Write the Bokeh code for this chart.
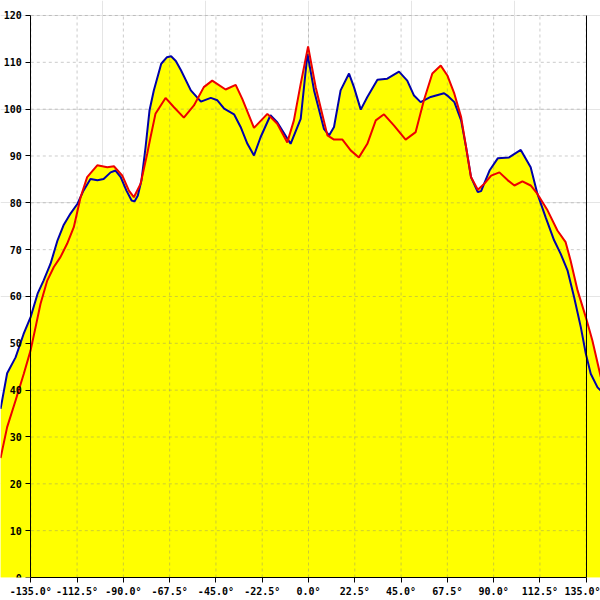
from bokeh.plotting import figure
from bokeh.models import LinearAxis, FixedTicker, Range1d
from bokeh.embed import file_html
from bokeh.resources import INLINE

# Blue series (angle in degrees, value)
angles_b = [-149.7, -146.5, -142.4, -138.5, -135.1, -131.7, -128.8, -125.4, -122.0, -119.1,
            -115.7, -112.3, -109.4, -106.0, -102.6, -99.6, -96.2, -93.8, -91.3, -88.5,
            -86.0, -84.6, -83.0, -81.2, -79.2, -77.3, -75.2, -71.6, -68.8, -66.8, -64.5, -62.0,
            -57.2, -52.3, -47.5, -44.3, -41.0, -36.2, -33.0, -29.7, -26.5, -23.3,
            -18.5, -15.2, -8.7, -3.8, -0.5, 2.7, 7.5, 10.0, 12.4, 15.6,
            19.7, 22.1, 25.4, 28.6, 33.5, 38.3, 44.0, 48.0, 51.3, 54.5,
            59.4, 65.9, 67.5, 70.9, 74.2, 76.6, 79.0, 82.3, 83.9, 88.0,
            92.0, 97.5, 103.2, 108.0, 111.3, 115.3, 119.4, 122.6, 125.9, 129.1,
            132.4, 134.8, 137.2, 140.5, 142.1]
values_b = [36.0, 43.6, 47.0, 52.0, 55.6, 60.6, 63.4, 67.0, 72.0, 75.2,
            77.7, 79.8, 82.6, 85.1, 84.8, 85.1, 86.5, 86.9, 85.5, 82.6,
            80.5, 80.3, 81.5, 84.8, 91.9, 99.7, 104.0, 109.7, 111.1, 111.3, 110.3, 108.3,
            104.0, 101.6, 102.4, 101.9, 100.1, 98.9, 96.2, 92.6, 90.1, 94.0,
            98.7, 97.2, 92.6, 97.9, 111.8, 104.0, 95.8, 94.4, 96.2, 104.0,
            107.6, 104.7, 99.9, 102.6, 106.3, 106.5, 108.0, 106.1, 102.9, 101.5,
            102.6, 103.4, 102.9, 101.5, 97.6, 91.9, 85.5, 82.3, 82.5, 86.9,
            89.5, 89.7, 91.3, 87.6, 81.9, 76.9, 72.0, 69.1, 65.6, 59.9,
            53.4, 47.8, 43.5, 40.6, 39.9]

# Red series
angles_r = [-149.7, -146.5, -142.4, -138.4, -135.1, -132.7, -130.3, -127.0, -123.8, -120.6,
            -117.3, -114.1, -110.8, -107.6, -102.7, -97.8, -94.6, -90.5, -87.3, -84.9,
            -81.6, -78.4, -76.8, -74.4, -69.5, -65.4, -60.6, -55.7, -50.9, -46.8,
            -40.3, -35.4, -32.2, -26.5, -20.0, -15.2, -10.3, -7.1, -3.8, -0.2,
            3.5, 9.2, 12.4, 16.5, 20.5, 24.5, 28.6, 32.7, 36.7, 41.6,
            47.2, 52.1, 56.1, 60.2, 64.3, 67.5, 70.9, 74.2, 76.6, 79.0,
            82.3, 85.5, 88.8, 92.8, 96.9, 100.1, 104.0, 108.0, 111.3, 116.2,
            121.0, 125.0, 127.4, 130.8, 134.8, 138.0, 142.1]
values_r = [25.5, 32.1, 37.8, 43.5, 48.5, 53.4, 58.4, 63.4, 66.3, 68.4,
            71.3, 74.8, 81.2, 85.5, 88.0, 87.6, 87.8, 85.8, 82.6, 81.2,
            84.1, 90.5, 94.0, 99.0, 102.4, 100.4, 98.2, 100.8, 104.7, 106.1,
            104.2, 105.2, 102.2, 96.0, 99.0, 96.9, 92.9, 97.6, 105.4, 113.4,
            104.7, 94.4, 93.5, 93.5, 91.2, 89.7, 92.6, 97.6, 98.9, 96.5,
            93.5, 95.1, 101.9, 107.6, 109.3, 107.2, 103.3, 98.3, 91.9, 85.5,
            82.8, 84.1, 85.8, 86.5, 84.8, 83.7, 84.6, 83.7, 81.9, 78.4,
            74.1, 71.6, 67.7, 61.3, 55.6, 50.6, 42.8]

x_ticks = [-135.0, -112.5, -90.0, -67.5, -45.0, -22.5, 0.0, 22.5, 45.0, 67.5, 90.0, 112.5, 135.0]
x_tick_labels = ["-135.0°", "-112.5°", "-90.0°", "-67.5°", "-45.0°", "-22.5°", "0.0°",
                 "22.5°", "45.0°", "67.5°", "90.0°", "112.5°", "135.0°"]
y_ticks = [0, 10, 20, 30, 40, 50, 60, 70, 80, 90, 100, 110, 120]
x_bounds = (-135.0, 135.0)
y_bounds = (0, 120)

p = figure(width=600, height=600, output_backend="svg", toolbar_location=None,
           x_range=Range1d(-149.73, 141.95), y_range=Range1d(0, 123.2),
           x_axis_location=None, y_axis_location=None,
           min_border_left=0, min_border_right=0, min_border_top=0, min_border_bottom=23)
p.outline_line_color = None
p.background_fill_color = "white"
p.border_fill_color = "white"

p.varea(x=angles_b, y1=0, y2=values_b, fill_color="#FFFF00")
p.varea(x=angles_r, y1=0, y2=values_r, fill_color="#FFFF00")

# grid lines over the fill
p.segment(x0=x_ticks, y0=y_bounds[0], x1=x_ticks, y1=y_bounds[1],
          line_color="#808080", line_alpha=0.4, line_dash="3 3", line_width=1)
p.segment(x0=x_bounds[0], y0=y_ticks, x1=x_bounds[1], y1=y_ticks,
          line_color="#808080", line_alpha=0.4, line_dash="3 3", line_width=1)

p.line(angles_b, values_b, line_color="#0000AA", line_width=2)
p.line(angles_r, values_r, line_color="#EE0000", line_width=2)

font = "DejaVu Sans Mono"

yaxis = LinearAxis(fixed_location=x_bounds[0], bounds=y_bounds,
                   ticker=FixedTicker(ticks=y_ticks))
yaxis.major_tick_in = 0
yaxis.major_tick_out = 5
yaxis.minor_tick_line_color = None
yaxis.major_label_standoff = 4
yaxis.major_label_text_font = font
yaxis.major_label_text_font_size = "10px"
yaxis.major_label_text_font_style = "bold"
yaxis.major_label_text_color = "black"
yaxis.axis_line_color = "black"
p.add_layout(yaxis, "left")

xaxis = LinearAxis(bounds=x_bounds, ticker=FixedTicker(ticks=x_ticks))
xaxis.major_label_overrides = {t: l for t, l in zip(x_ticks, x_tick_labels)}
xaxis.major_tick_in = 0
xaxis.major_tick_out = 5
xaxis.minor_tick_line_color = None
xaxis.major_label_standoff = 3
xaxis.major_label_text_font = font
xaxis.major_label_text_font_size = "10px"
xaxis.major_label_text_font_style = "bold"
xaxis.major_label_text_color = "black"
p.add_layout(xaxis, "below")

raxis = LinearAxis(fixed_location=x_bounds[1], bounds=y_bounds,
                   ticker=FixedTicker(ticks=[]))
raxis.major_label_text_font_size = "0px"
raxis.major_tick_line_color = None
raxis.minor_tick_line_color = None
p.add_layout(raxis, "right")

open("out.html", "w").write(file_html(p, INLINE))
